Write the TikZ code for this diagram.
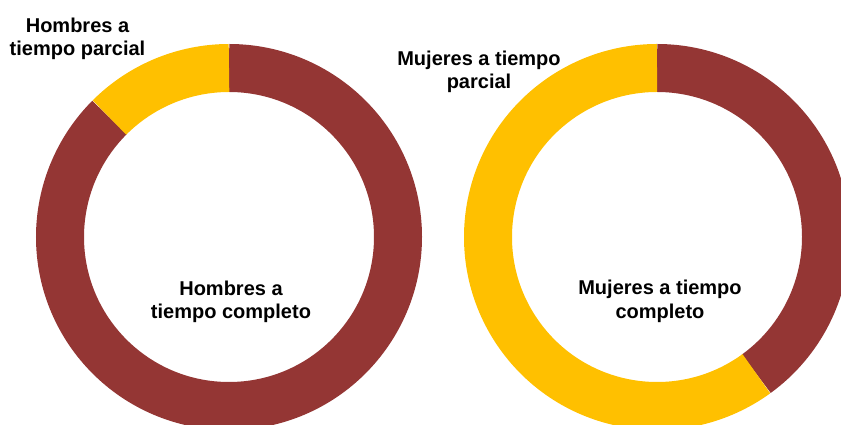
\documentclass[tikz,border=0pt]{standalone}
\usepackage{fontspec}
\setmainfont{Liberation Sans}
\definecolor{completo}{HTML}{943634}
\definecolor{parcial}{HTML}{FFC000}
\tikzset{
  etiqueta/.style={font=\bfseries\fontsize{20}{23.5}\selectfont, align=center, inner sep=0pt},
  anillo/.style={line width=48pt},
}
\begin{document}
\begin{tikzpicture}[x=1pt,y=1pt]
        \useasboundingbox (0,0) rectangle (841,425);
        \clip (0,0) rectangle (841,425);
        \coordinate (cH) at (229,188);
        \coordinate (cM) at (657,188);
        % hombres
        \draw[anillo, completo] (cH) ++(90:169) arc[start angle=90, end angle=-225, radius=169];
        \draw[anillo, parcial] (cH) ++(135:169) arc[start angle=135, end angle=90, radius=169];
        % mujeres
        \draw[anillo, completo] (cM) ++(90:169) arc[start angle=90, end angle=-54, radius=169];
        \draw[anillo, parcial] (cM) ++(-54:169) arc[start angle=-54, end angle=-270, radius=169];
        \node[etiqueta] (hparcial) at (77.5,386) {Hombres a\\tiempo parcial};
        \node[etiqueta] (hcompleto) at (231,123) {Hombres a\\tiempo completo};
        \node[etiqueta] (mparcial) at (479,353) {Mujeres a tiempo\\parcial};
        \node[etiqueta] (mcompleto) at (660,123.5) {Mujeres a tiempo\\completo};
\end{tikzpicture}
\end{document}
